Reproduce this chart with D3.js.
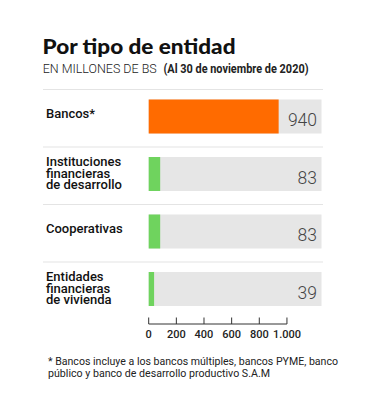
<!DOCTYPE html>
<html><head><meta charset="utf-8">
<script src="https://cdn.jsdelivr.net/npm/d3@7"></script>
<style>html,body{margin:0;padding:0;background:#fff;}svg{display:block;}</style>
</head><body>
<script>
const categories = [["Bancos*"], ["Instituciones","financieras","de desarrollo"], ["Cooperativas"], ["Entidades","financieras","de vivienda"]];
const values = [940, 83, 83, 39];
const colors = ["#ff6b00", "#6fd35e", "#6fd35e", "#6fd35e"];
const tickValues = [0, 200, 400, 600, 800, 1000];
const tickLabels = ["0", "200", "400", "600", "800", "1.000"];
const title = "Por tipo de entidad";
const subtitle1 = "EN MILLONES DE BS";
const subtitle2 = "(Al 30 de noviembre de 2020)";
const footnote = ["* Bancos incluye a los bancos múltiples, bancos PYME, banco", "público y banco de desarrollo productivo S.A.M"];

const W = 382, H = 394;
const svg = d3.select("body").append("svg").attr("width", W).attr("height", H);

const x = d3.scaleLinear().domain([0, 1250]).range([148.7, 321.5]);
const y = d3.scaleBand().domain(d3.range(values.length)).range([89.5, 319.5]).paddingInner(0).paddingOuter(0);

// title
svg.append("text").attr("x", 42.5).attr("y", 54).text(title)
  .attr("font-family", "Lato, 'DejaVu Sans', sans-serif").attr("font-weight", 900)
  .attr("font-size", 20).attr("fill", "#111")
  .attr("textLength", 193).attr("lengthAdjust", "spacingAndGlyphs");
svg.append("text").attr("x", 42.7).attr("y", 73.3).text(subtitle1)
  .attr("font-family", "Roboto, sans-serif").attr("font-weight", 300)
  .attr("font-size", 13).attr("fill", "#222")
  .attr("textLength", 114).attr("lengthAdjust", "spacingAndGlyphs");
svg.append("text").attr("x", 163.5).attr("y", 73.3).text(subtitle2)
  .attr("font-family", "Roboto, sans-serif").attr("font-weight", 700)
  .attr("font-size", 13).attr("fill", "#222")
  .attr("textLength", 145).attr("lengthAdjust", "spacingAndGlyphs");

// separators
const seps = d3.range(values.length).map(i => y(i));
svg.selectAll("line.sep").data(seps).join("line").attr("class", "sep")
  .attr("x1", 43).attr("x2", 323).attr("y1", d => d).attr("y2", d => d)
  .attr("stroke", "#e4e4e4").attr("stroke-width", 1.2);

const barH = 34;
const rowOff = 10;
const g = svg.selectAll("g.row").data(values).join("g").attr("class", "row")
  .attr("transform", (d, i) => `translate(0,${y(i) + rowOff})`);

g.append("rect").attr("x", x(0)).attr("width", x(1250) - x(0)).attr("height", barH).attr("fill", "#e6e6e6");
g.append("rect").attr("x", x(0)).attr("width", d => x(d) - x(0)).attr("height", barH).attr("fill", (d, i) => colors[i]);
g.append("text").attr("x", 317).attr("y", 26.5).attr("text-anchor", "end").text(d => d)
  .attr("font-family", "Roboto, sans-serif").attr("font-weight", 300).attr("font-size", 17.5).attr("fill", "#444");

g.each(function(d, i) {
  const lines = categories[i];
  const t = d3.select(this).append("text")
    .attr("font-family", "Roboto, sans-serif").attr("font-weight", 500)
    .attr("font-size", 13).attr("fill", "#111");
  const lh = 11.5;
  const base = lines.length === 1 ? 18.5 : 9;
  lines.forEach((l, k) => t.append("tspan").attr("x", 46).attr("y", base + k * lh).text(l));
});

// axis
const ax = svg.append("g").attr("transform", "translate(0,324)");
ax.append("line").attr("x1", x(0)).attr("x2", x(1000)).attr("stroke", "#333").attr("stroke-width", 1);
ax.selectAll("line.tick").data(tickValues).join("line").attr("class", "tick")
  .attr("x1", d => x(d)).attr("x2", d => x(d)).attr("y1", 0).attr("y2", -6.5)
  .attr("stroke", "#333").attr("stroke-width", 1);
ax.selectAll("text").data(tickValues).join("text")
  .attr("x", d => x(d)).attr("y", 13.7).attr("text-anchor", "middle")
  .text((d, i) => tickLabels[i])
  .attr("font-family", "Roboto, sans-serif").attr("font-weight", 500).attr("font-size", 11).attr("fill", "#222");

// footnote
const fn = [[footnote[0], 290], [footnote[1], 222]];
fn.forEach((f, k) => {
  svg.append("text").attr("x", 48).attr("y", 365 + k * 11.7).text(f[0])
    .attr("font-family", "Roboto, sans-serif").attr("font-weight", 400)
    .attr("font-size", 11.5).attr("fill", "#222")
    .attr("textLength", f[1]).attr("lengthAdjust", "spacingAndGlyphs");
});
</script>
</body></html>
